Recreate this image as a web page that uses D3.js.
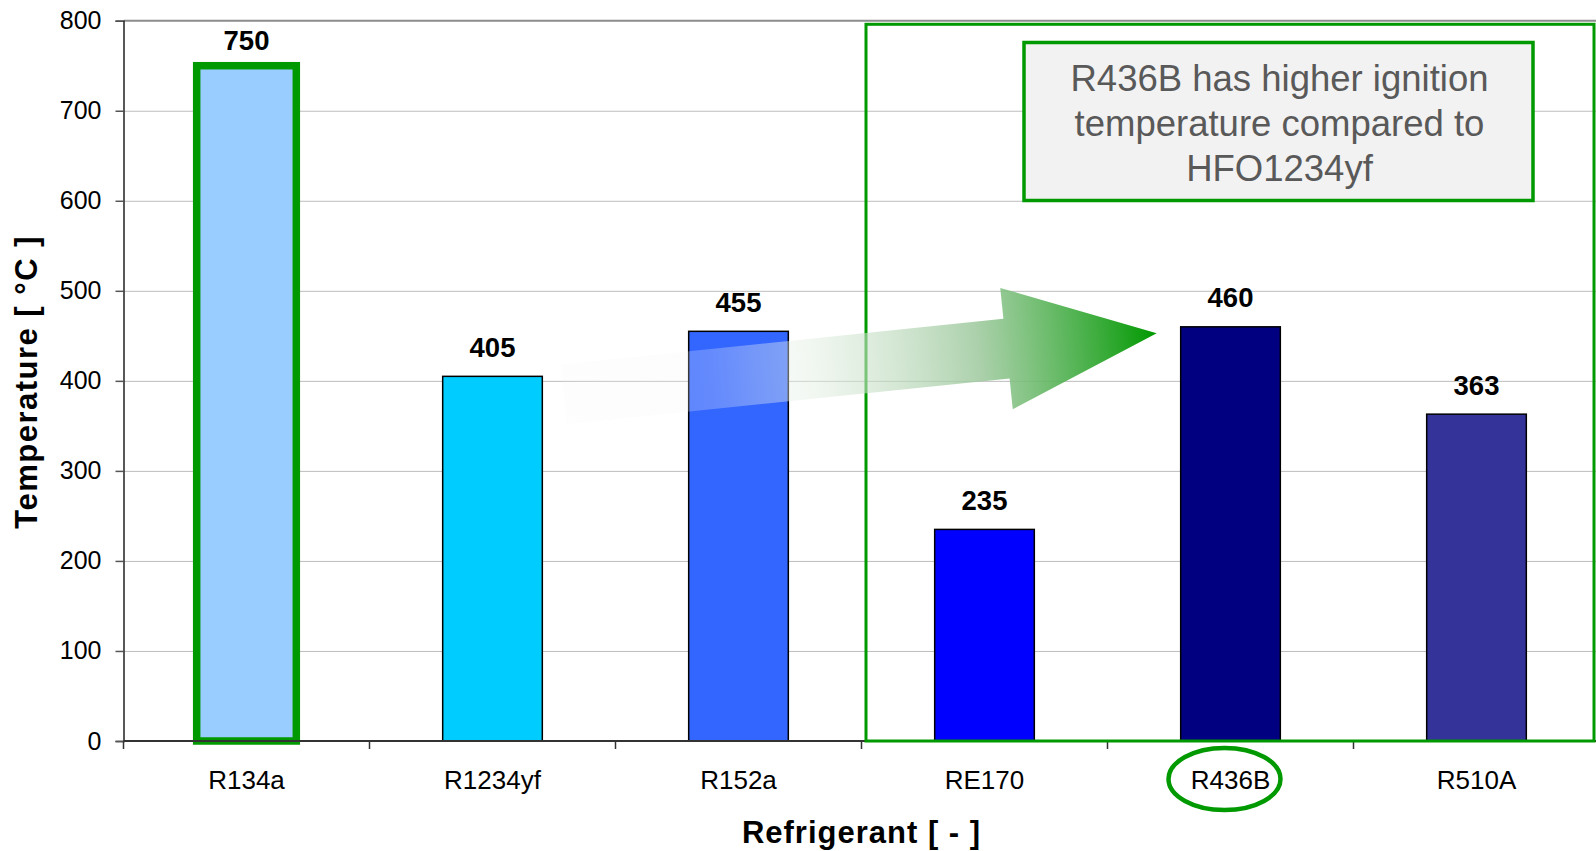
<!DOCTYPE html>
<html>
<head>
<meta charset="utf-8">
<script src="https://cdn.jsdelivr.net/npm/d3@7"></script>
<style>
  body { margin: 0; background: #fff; }
  svg { display: block; font-family: "Liberation Sans", Arial, sans-serif; }
</style>
</head>
<body>
<div id="chart"></div>
<script>
// data
const refrigerants = ['R134a', 'R1234yf', 'R152a', 'RE170', 'R436B', 'R510A'];
const ignitionTemps = [750, 405, 455, 235, 460, 363];
const barColors = ['#99ccff', '#00ccff', '#3366ff', '#0000ff', '#000080', '#333399'];
const yTicks = [0, 100, 200, 300, 400, 500, 600, 700, 800];
const noteLines = ['R436B has higher ignition', 'temperature compared to', 'HFO1234yf'];

// sizes
const w = 1596, h = 851;
const plotL = 123.5, plotR = 1599.5, plotT = 20.7, plotB = 741;
const green = '#009900';

const svg = d3.select('#chart').append('svg')
    .attr('width', w)
    .attr('height', h);

const xScale = d3.scaleBand()
    .domain(refrigerants)
    .range([plotL, plotR])
    .paddingInner(0.595)
    .paddingOuter(0.2975);

const yScale = d3.scaleLinear()
    .domain([0, 800])
    .range([plotB, plotT]);

// gridlines (dotted)
svg.append('g')
    .selectAll('line')
    .data(yTicks.filter(d => d > 0 && d < 800))
    .enter()
    .append('line')
    .attr('x1', plotL).attr('x2', w)
    .attr('y1', d => yScale(d) + 0.5).attr('y2', d => yScale(d) + 0.5)
    .attr('stroke', '#7a7a7a')
    .attr('stroke-width', 1)
    .attr('stroke-dasharray', '1,1');

// top border of plot area
svg.append('line')
    .attr('x1', plotL).attr('x2', w)
    .attr('y1', yScale(800)).attr('y2', yScale(800))
    .attr('stroke', '#8c8c8c')
    .attr('stroke-width', 2);

// bars
svg.append('g')
    .selectAll('rect')
    .data(refrigerants)
    .enter()
    .append('rect')
    .attr('x', d => xScale(d))
    .attr('y', (d, i) => yScale(ignitionTemps[i]))
    .attr('width', xScale.bandwidth())
    .attr('height', (d, i) => plotB - yScale(ignitionTemps[i]))
    .attr('fill', (d, i) => barColors[i])
    .attr('stroke', (d, i) => i === 0 ? green : '#000')
    .attr('stroke-width', (d, i) => i === 0 ? 7.5 : 1.5);

// value labels
svg.append('g')
    .selectAll('text')
    .data(refrigerants)
    .enter()
    .append('text')
    .text((d, i) => ignitionTemps[i])
    .attr('x', d => xScale(d) + xScale.bandwidth() / 2)
    .attr('y', (d, i) => yScale(ignitionTemps[i]) - (i === 0 ? 16 : 19.5))
    .attr('text-anchor', 'middle')
    .attr('font-size', 27.5)
    .attr('font-weight', 'bold')
    .attr('fill', '#000');

// axes
const yAxis = d3.axisLeft(yScale).tickValues(yTicks).tickSize(8).tickPadding(14);
const gy = svg.append('g')
    .attr('transform', 'translate(' + plotL + ',0)')
    .call(yAxis);
gy.select('.domain').attr('stroke', '#222').attr('stroke-width', 1.5);
gy.selectAll('.tick line').attr('stroke', '#555').attr('stroke-width', 1.5);
gy.selectAll('.tick text')
    .attr('font-size', 25)
    .attr('font-family', '"Liberation Sans", Arial, sans-serif')
    .attr('fill', '#000');

// x axis line and tick marks between categories
svg.append('line')
    .attr('x1', plotL).attr('x2', w)
    .attr('y1', plotB).attr('y2', plotB)
    .attr('stroke', '#333')
    .attr('stroke-width', 2);

const step = xScale.step();
svg.append('g')
    .selectAll('line')
    .data(d3.range(refrigerants.length + 1))
    .enter()
    .append('line')
    .attr('x1', i => plotL + i * step).attr('x2', i => plotL + i * step)
    .attr('y1', plotB).attr('y2', plotB + 8)
    .attr('stroke', '#333')
    .attr('stroke-width', 1.5);

svg.append('g')
    .selectAll('text')
    .data(refrigerants)
    .enter()
    .append('text')
    .text(d => d)
    .attr('x', d => xScale(d) + xScale.bandwidth() / 2)
    .attr('y', plotB + 48)
    .attr('text-anchor', 'middle')
    .attr('font-size', 26)
    .attr('fill', '#000');

// axis titles
svg.append('text')
    .text('Refrigerant [ - ]')
    .attr('x', (plotL + plotR) / 2)
    .attr('y', 843)
    .attr('text-anchor', 'middle')
    .attr('font-size', 31)
    .attr('font-weight', 'bold')
    .attr('letter-spacing', 1);

svg.append('text')
    .text('Temperature [ °C ]')
    .attr('transform', 'translate(37,' + ((plotT + plotB) / 2 + 1) + ') rotate(-90)')
    .attr('text-anchor', 'middle')
    .attr('font-size', 31)
    .attr('font-weight', 'bold')
    .attr('letter-spacing', 1.5);

// green frame around the right group
const frameL = plotL + 3 * step + 4.5;
svg.append('rect')
    .attr('x', frameL)
    .attr('y', 24.3)
    .attr('width', 1594 - frameL)
    .attr('height', plotB - 24.3)
    .attr('fill', 'none')
    .attr('stroke', green)
    .attr('stroke-width', 3);

// gradient arrow
const defs = svg.append('defs');
const from = [plotL + 1.79 * step, yScale(385)];
const to = [plotL + 4.2 * step, yScale(453)];
const len = Math.hypot(to[0] - from[0], to[1] - from[1]);
const ang = Math.atan2(to[1] - from[1], to[0] - from[0]) * 180 / Math.PI;

const grad = defs.append('linearGradient')
    .attr('id', 'arrowGrad')
    .attr('gradientUnits', 'userSpaceOnUse')
    .attr('x1', 0).attr('y1', 0)
    .attr('x2', len).attr('y2', 0);
grad.append('stop').attr('offset', 0).attr('stop-color', '#f2f2f2').attr('stop-opacity', 0.12);
grad.append('stop').attr('offset', 0.25).attr('stop-color', '#f6f6f6').attr('stop-opacity', 0.25);
grad.append('stop').attr('offset', 0.4).attr('stop-color', '#e6f0e6').attr('stop-opacity', 0.45);
grad.append('stop').attr('offset', 0.7).attr('stop-color', '#9cc89c').attr('stop-opacity', 0.85);
grad.append('stop').attr('offset', 1).attr('stop-color', green).attr('stop-opacity', 1);

const headLen = 151, shaftHalf = 30, headHalf = 61;
const arrowPts = [
    [0, -shaftHalf], [len - headLen, -shaftHalf], [len - headLen, -headHalf],
    [len, 0],
    [len - headLen, headHalf], [len - headLen, shaftHalf], [0, shaftHalf]
];
svg.append('path')
    .attr('d', d3.line()(arrowPts) + 'Z')
    .attr('transform', 'translate(' + from[0] + ',' + from[1] + ') rotate(' + ang + ')')
    .attr('fill', 'url(#arrowGrad)');

// note box
const boxX = 1024, boxY = 42.5, boxW = 509, boxH = 158;
svg.append('rect')
    .attr('x', boxX).attr('y', boxY)
    .attr('width', boxW).attr('height', boxH)
    .attr('fill', '#f2f2f2')
    .attr('stroke', green)
    .attr('stroke-width', 3.5);

svg.append('g')
    .selectAll('text')
    .data(noteLines)
    .enter()
    .append('text')
    .text(d => d)
    .attr('x', boxX + boxW / 2 + 1)
    .attr('y', (d, i) => 91 + i * 45)
    .attr('text-anchor', 'middle')
    .attr('font-size', 36.5)
    .attr('fill', '#595959');

// ellipse around R436B label
svg.append('ellipse')
    .attr('cx', xScale('R436B') + xScale.bandwidth() / 2 - 6)
    .attr('cy', plotB + 38)
    .attr('rx', 56)
    .attr('ry', 31)
    .attr('fill', 'none')
    .attr('stroke', green)
    .attr('stroke-width', 4.5);
</script>
</body>
</html>
